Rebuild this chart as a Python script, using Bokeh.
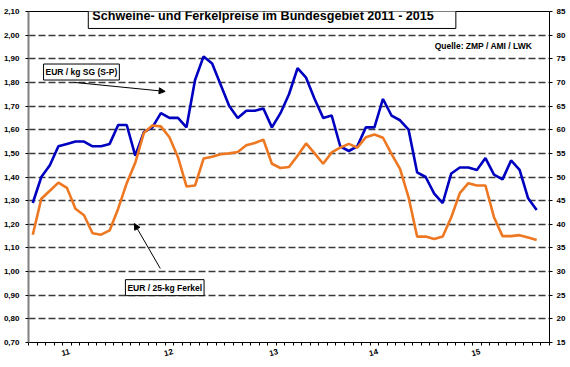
from bokeh.plotting import figure
from bokeh.models import (Range1d, LinearAxis, FixedTicker, CustomJSTickFormatter,
                          Label, Arrow, NormalHead, ColumnDataSource)
from bokeh.embed import file_html
from bokeh.resources import INLINE

# ---------------- data ----------------
# monthly values Jan 2011 .. Dec 2015
month_index = list(range(60))
pig_price = [1.29, 1.40, 1.45, 1.53, 1.54, 1.55, 1.55, 1.53, 1.53, 1.54,
             1.62, 1.62, 1.49, 1.59, 1.61, 1.67, 1.65, 1.65, 1.61, 1.81,
             1.91, 1.88, 1.79, 1.70, 1.65, 1.68, 1.68, 1.69, 1.61, 1.67,
             1.75, 1.86, 1.82, 1.73, 1.65, 1.66, 1.53, 1.51, 1.53, 1.61,
             1.61, 1.73, 1.66, 1.64, 1.60, 1.42, 1.40, 1.33, 1.29, 1.415,
             1.44, 1.44, 1.43, 1.48, 1.41, 1.39, 1.47, 1.43, 1.31, 1.26]
piglet_price = [37.8, 45.4, 47.1, 48.8, 47.7, 43.3, 41.9, 38.1, 37.8, 38.7,
                43.3, 48.7, 53.0, 59.3, 60.9, 60.7, 58.4, 54.2, 48.0, 48.2,
                53.9, 54.3, 54.8, 55.0, 55.3, 56.7, 57.2, 57.9, 52.8, 51.9,
                52.1, 54.5, 57.1, 55.0, 52.8, 55.2, 56.2, 57.0, 56.2, 58.4,
                59.0, 58.3, 54.9, 51.7, 45.7, 37.4, 37.4, 36.9, 37.4, 41.5,
                46.6, 48.7, 48.2, 48.2, 41.5, 37.5, 37.5, 37.7, 37.2, 36.7]

year_tick_pos = [4.83, 16.9, 29.2, 40.9, 52.9]
year_labels = ["11", "12", "13", "14", "15"]
month_ticks = list(range(62))
left_ticks = [0.70, 0.80, 0.90, 1.00, 1.10, 1.20, 1.30, 1.40, 1.50, 1.60,
              1.70, 1.80, 1.90, 2.00, 2.10]
grid_ticks = left_ticks[1:-1]
right_ticks = [15, 20, 25, 30, 35, 40, 45, 50, 55, 60, 65, 70, 75, 80, 85]

title_text = "Schweine- und Ferkelpreise im Bundesgebiet 2011 - 2015"
source_text = "Quelle: ZMP / AMI / LWK"
pig_label = "EUR / kg SG (S-P)"
piglet_label = "EUR / 25-kg Ferkel"

FONT = "Liberation Sans"
BLUE = "#0000C0"
ORANGE = "#EE7722"

src = ColumnDataSource(dict(x=[m + 0.5 for m in month_index],
                            pig=pig_price, piglet=piglet_price))

p = figure(width=570, height=367, output_backend="svg", toolbar_location=None,
           x_range=Range1d(0, 61), y_range=Range1d(0.70, 2.10),
           min_border_left=27, min_border_right=21, min_border_top=11,
           min_border_bottom=25, background_fill_color="white",
           border_fill_color="white")
p.outline_line_color = "black"
p.outline_line_width = 1

p.extra_y_ranges = {"right": Range1d(15, 85)}

# grid
p.xgrid.visible = False
p.ygrid.ticker = FixedTicker(ticks=grid_ticks)
p.ygrid.grid_line_color = "#3a3a3a"
p.ygrid.grid_line_width = 1.5
p.ygrid.grid_line_dash = "7 3"

# left axis
ya = p.yaxis[0]
ya.ticker = FixedTicker(ticks=left_ticks)
ya.formatter = CustomJSTickFormatter(code="return tick.toFixed(2).replace('.', ',');")
ya.axis_line_color = "#808080"
ya.axis_line_width = 2
ya.major_tick_out = 3
ya.major_tick_in = 0
ya.minor_tick_line_color = None
ya.major_label_standoff = 6
ya.major_label_text_font = FONT
ya.major_label_text_font_style = "bold"
ya.major_label_text_font_size = "8px"
ya.major_label_text_color = "black"

# right axis
ra = LinearAxis(y_range_name="right", ticker=FixedTicker(ticks=right_ticks))
ra.axis_line_color = "black"
ra.axis_line_width = 1
ra.major_tick_out = 3
ra.major_tick_in = 0
ra.minor_tick_line_color = None
ra.major_label_standoff = 4
ra.major_label_text_font = FONT
ra.major_label_text_font_style = "bold"
ra.major_label_text_font_size = "8px"
ra.major_label_text_color = "black"
p.add_layout(ra, "right")

# bottom axis
xa = p.xaxis[0]
xa.ticker = FixedTicker(ticks=year_tick_pos, minor_ticks=month_ticks)
xa.major_label_overrides = {t: l for t, l in zip(year_tick_pos, year_labels)}
xa.major_tick_line_color = None
xa.minor_tick_out = 3
xa.minor_tick_in = 0
xa.minor_tick_line_color = "black"
xa.axis_line_color = "black"
xa.major_label_standoff = 3
xa.major_label_orientation = 0.25
xa.major_label_text_font = FONT
xa.major_label_text_font_style = "bold"
xa.major_label_text_font_size = "8px"
xa.major_label_text_color = "black"

# lines
p.line("x", "pig", source=src, line_color=BLUE, line_width=2.6)
p.line("x", "piglet", source=src, line_color=ORANGE, line_width=2.6,
       y_range_name="right")

# title box
p.add_layout(Label(x=7.0, y=2.079, text=title_text, text_align="left",
                   text_baseline="middle", text_font=FONT, text_font_style="bold",
                   text_font_size="12.6px", text_color="black",
                   border_line_color="black", border_line_width=1,
                   background_fill_color="white",
                   padding=dict(left=4, right=22, top=5, bottom=5),
                   level="overlay"))

# source note
p.add_layout(Label(x=59.0, y=1.956, text=source_text, text_align="right",
                   text_baseline="middle", text_font=FONT, text_font_style="bold",
                   text_font_size="8.5px", text_color="black"))

# series labels with arrows
p.add_layout(Arrow(end=NormalHead(size=6, fill_color="black", line_color="black"),
                   x_start=5.4, y_start=1.80, x_end=16.0, y_end=1.762,
                   line_color="black", line_width=1))
p.add_layout(Label(x=6.2, y=1.844, text=pig_label, text_align="center",
                   text_baseline="middle", text_font=FONT, text_font_style="bold",
                   text_font_size="8.5px", text_color="black",
                   border_line_color="black", border_line_width=1,
                   background_fill_color="white", padding=(2, 3)))

p.add_layout(Arrow(end=NormalHead(size=6, fill_color="black", line_color="black"),
                   x_start=15.43, y_start=1.013, x_end=12.39, y_end=1.203,
                   line_color="black", line_width=1))
p.add_layout(Label(x=15.95, y=0.932, text=piglet_label, text_align="center",
                   text_baseline="middle", text_font=FONT, text_font_style="bold",
                   text_font_size="8.5px", text_color="black",
                   border_line_color="black", border_line_width=1,
                   background_fill_color="white", padding=(2, 3)))

open("out.html", "w").write(file_html(p, INLINE))
